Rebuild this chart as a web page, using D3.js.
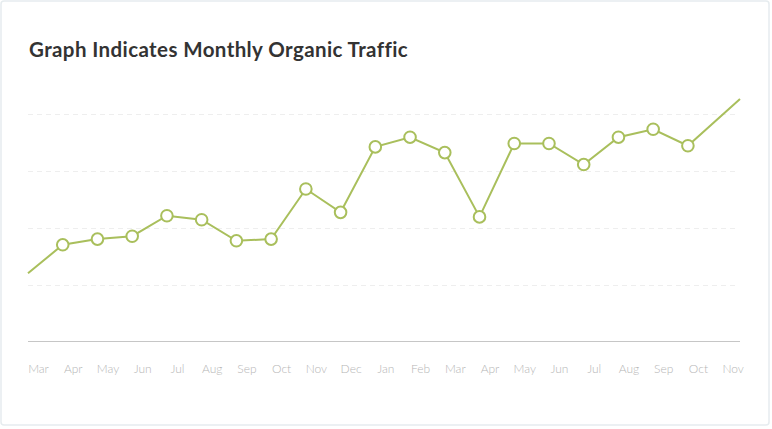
<!DOCTYPE html>
<html>
<head>
<meta charset="utf-8">
<script src="https://cdn.jsdelivr.net/npm/d3@7"></script>
<style>
  html, body { margin: 0; padding: 0; background: #ffffff; }
  svg { display: block; }
</style>
</head>
<body>
<svg id="chart" width="772" height="429"></svg>
<script>
const title = "Graph Indicates Monthly Organic Traffic";
const months = ["Mar","Apr","May","Jun","Jul","Aug","Sep","Oct","Nov","Dec","Jan","Feb","Mar","Apr","May","Jun","Jul","Aug","Sep","Oct","Nov"];
// traffic values (grid units), first and last are line ends without markers
const traffic = [1.20,1.70,1.80,1.85,2.21,2.14,1.77,1.80,2.68,2.27,3.42,3.59,3.32,2.19,3.48,3.48,3.11,3.59,3.73,3.44,4.26];
const gridTicks = [1,2,3,4];

const svg = d3.select("#chart");
const W = 772, H = 429;

// card
svg.append("rect")
  .attr("x", 1).attr("y", 1).attr("width", W - 4).attr("height", H - 5)
  .attr("rx", 3).attr("ry", 3)
  .attr("fill", "#ffffff").attr("stroke", "#e6ecef").attr("stroke-width", 1.5);

svg.append("text")
  .attr("x", 29).attr("y", 57)
  .attr("font-family", "Lato, 'Open Sans', sans-serif")
  .attr("font-weight", 700)
  .attr("font-size", 20.5)
  .attr("letter-spacing", 0.4)
  .attr("fill", "#333333")
  .text(title);

const left = 28, right = 740;
const nIdx = traffic.length - 1; // last index
// last point sits half a step past the last label
const x = d3.scaleLinear().domain([0, nIdx + 0.5]).range([left, right]);
const xPos = i => (i === nIdx ? x(nIdx + 0.5) : x(i));
const y = d3.scaleLinear().domain([0, 5]).range([341.5, 57]);

// grid lines
svg.append("g").selectAll("line").data(gridTicks).join("line")
  .attr("x1", left).attr("x2", 737)
  .attr("y1", d => Math.round(y(d)) + 0.5).attr("y2", d => Math.round(y(d)) + 0.5)
  .attr("stroke", "#eeeeee").attr("stroke-width", 1)
  .attr("stroke-dasharray", "5,4");

// baseline
svg.append("line")
  .attr("x1", left).attr("x2", right)
  .attr("y1", y(0)).attr("y2", y(0))
  .attr("stroke", "#c6c6c6").attr("stroke-width", 1);

// month labels
const xAxis = d3.axisBottom(x).tickValues(d3.range(months.length)).tickFormat(i => months[i]).tickSize(0);
const ax = svg.append("g").attr("transform", `translate(0,${y(0)})`).call(xAxis);
ax.select(".domain").remove();
ax.selectAll("text")
  .attr("text-anchor", "middle")
  .attr("dx", 10)
  .attr("y", 31.5)
  .attr("dy", 0)
  .attr("font-family", "Lato, sans-serif")
  .attr("font-weight", 300)
  .attr("font-size", 12)
  .attr("fill", "#b5b5b5");

const color = "#a9bf5c";
const line = d3.line().x((d, i) => xPos(i)).y(d => y(d));
svg.append("path")
  .datum(traffic)
  .attr("d", line)
  .attr("fill", "none")
  .attr("stroke", color)
  .attr("stroke-width", 2);

svg.append("g").selectAll("circle")
  .data(traffic.map((v, i) => ({v, i})).filter(d => d.i > 0 && d.i < nIdx))
  .join("circle")
  .attr("cx", d => xPos(d.i))
  .attr("cy", d => y(d.v))
  .attr("r", 5.8)
  .attr("fill", "#ffffff")
  .attr("stroke", color)
  .attr("stroke-width", 2);
</script>
</body>
</html>
